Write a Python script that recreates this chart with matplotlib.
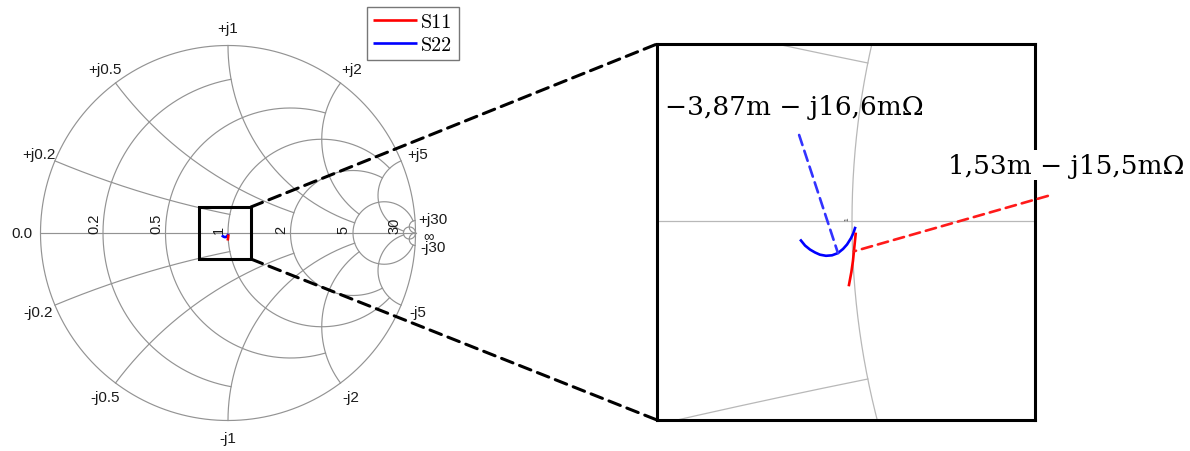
import numpy as np
import matplotlib
matplotlib.use("Agg")
import matplotlib.pyplot as plt
from matplotlib.patches import Rectangle, ConnectionPatch

# ---------------- data (reflection coefficients) -------------
s11_re = [0.0023, 0.0018, 0.0012, 0.0006, -0.0004, -0.0019]
s11_im = [-0.0081, -0.0130, -0.0190, -0.0250, -0.0320, -0.0401]
s22_re = [-0.0320, -0.0294, -0.0263, -0.0232, -0.0201, -0.0163, -0.0125,
          -0.0088, -0.0056, -0.0031, -0.0006, 0.0009, 0.0019]
s22_im = [-0.0122, -0.0154, -0.0179, -0.0197, -0.0211, -0.0218, -0.0215,
          -0.0201, -0.0175, -0.0147, -0.0107, -0.0075, -0.0044]

grid_values = [0.2, 0.5, 1, 2, 5, 30]
grid_ends = [1, 2, 5, 5, 30, np.inf]
r_labels = ["0.2", "0.5", "1", "2", "5", "30"]
x_labels_pos = ["+j0.2", "+j0.5", "+j1", "+j2", "+j5", "+j30"]
x_labels_neg = ["-j0.2", "-j0.5", "-j1", "-j2", "-j5", "-j30"]
zero_label = "0.0"
inf_label = "\u221e"

legend_labels = ["S11", "S22"]
s22_note = "\u22123,87m \u2212 j16,6m\u03a9"
s11_note = "1,53m \u2212 j15,5m\u03a9"

# marked region of the chart (Gamma units): x0, x1, y0, y1
zoom_window = (-0.155, 0.123, -0.139, 0.139)

# ---------------- helpers ----------------
def gamma(z):
    return (z - 1) / (z + 1)


def r_circle(r, xend, n=4000):
    if np.isinf(xend):
        th = np.linspace(0, 2 * np.pi, n)
        c, rad = r / (1 + r), 1 / (1 + r)
        return c + rad * np.cos(th), rad * np.sin(th)
    t = np.linspace(-xend, xend, n)
    g = gamma(r + 1j * t)
    return g.real, g.imag


def x_arc(x, rend, n=4000):
    if np.isinf(rend):
        s = np.tan(np.linspace(0, np.pi / 2 * 0.99995, n))
    else:
        s = np.linspace(0, rend, n)
    g = gamma(s + 1j * x)
    return g.real, g.imag


def draw_grid(ax, color, lw):
    th = np.linspace(0, 2 * np.pi, 1000)
    ax.plot(np.cos(th), np.sin(th), color=color, lw=lw, zorder=1)
    ax.plot([-1, 1], [0, 0], color=color, lw=lw, zorder=1)
    for v, e in zip(grid_values, grid_ends):
        xr, yr = r_circle(v, e)
        ax.plot(xr, yr, color=color, lw=lw, zorder=1)
        for sgn in (1, -1):
            xa, ya = x_arc(sgn * v, e)
            ax.plot(xa, ya, color=color, lw=lw, zorder=1)


W, H = 1190, 452
fig = plt.figure(figsize=(W / 100, H / 100), dpi=100)

# ---------------- main Smith chart ----------------
R = 187.5
cx, cy = 228, 234
ax = fig.add_axes([0, 0, 456 / W, 1])
ax.set_xlim(-cx / R, (456 - cx) / R)
ax.set_ylim(-(H - cy) / R, cy / R)
ax.axis("off")

draw_grid(ax, "#939393", 0.85)

lab_font = dict(family="Liberation Sans", color="#1a1a1a")
for v, lab in zip(grid_values, r_labels):
    ax.annotate(lab, ((v - 1) / (v + 1), 0), xytext=(-1.5, 0.3),
                textcoords="offset points", rotation=90, ha="right",
                va="bottom", fontsize=10.5, **lab_font)

for v, lp, ln in zip(grid_values, x_labels_pos, x_labels_neg):
    ang = np.angle(gamma(1j * v))
    for sgn, lab in ((1, lp), (-1, ln)):
        ax.text(1.095 * np.cos(ang), sgn * 1.095 * np.sin(ang), lab,
                ha="center", va="center", fontsize=11, **lab_font)
ax.text(-1.1, 0, zero_label, ha="center", va="center", fontsize=11, **lab_font)
ax.text(1.068, -0.01, inf_label, ha="center", va="center", fontsize=10.5,
        **lab_font)

l22, = ax.plot(s22_re, s22_im, color="#0000ff", lw=1.9, zorder=3,
               solid_capstyle="butt")
l11, = ax.plot(s11_re, s11_im, color="#ff0000", lw=1.9, zorder=3,
               solid_capstyle="butt")

x0, x1, y0, y1 = zoom_window
ax.add_patch(Rectangle((x0, y0), x1 - x0, y1 - y0, fill=False,
                       ec="black", lw=2.2, zorder=4))

leg = fig.legend([l11, l22], legend_labels, loc="upper left",
                 bbox_to_anchor=(367 / W, 1 - 8 / H), frameon=True,
                 fancybox=False, borderaxespad=0,
                 prop={"family": "cmr10", "size": 14.5},
                 handlelength=2.2, handletextpad=0.2, borderpad=0.3,
                 labelspacing=0.22)
leg.get_frame().set_edgecolor("#555555")
leg.get_frame().set_linewidth(1.0)

# ---------------- zoomed inset ----------------
S = 1596
icx, icy = 852, 222
axi = fig.add_axes([657 / W, (H - 421) / H, 378 / W, 376 / H])
axi.set_xlim((657 - icx) / S, (1035 - icx) / S)
axi.set_ylim((icy - 421) / S, (icy - 45) / S)
axi.set_xticks([])
axi.set_yticks([])
for sp in axi.spines.values():
    sp.set_linewidth(2.2)
    sp.set_color("black")

draw_grid(axi, "#b8b8b8", 0.9)
axi.annotate(r_labels[2], (0, 0), xytext=(-2, 0.5), textcoords="offset points",
             rotation=90, ha="right", va="bottom", fontsize=4.5,
             color="#333333", family="Liberation Sans")

axi.plot(s22_re, s22_im, color="#0000ff", lw=1.9, zorder=3)
axi.plot(s11_re, s11_im, color="#ff0000", lw=1.9, zorder=3)

dash = (0, (4, 2.3))
axi.annotate("", xy=(s22_re[7], s22_im[7]), xytext=(0.376, 0.758),
             textcoords="axes fraction",
             arrowprops=dict(arrowstyle="-", color="#3333ff", lw=1.9,
                             linestyle=dash, shrinkA=0, shrinkB=0))
axi.annotate("", xy=(s11_re[2], s11_im[2]),
             xytext=(1.034, 0.596), textcoords="axes fraction",
             arrowprops=dict(arrowstyle="-", color="#ff1a1a", lw=1.9,
                             linestyle=dash, shrinkA=0, shrinkB=0),
             annotation_clip=False)

note_font = dict(family="DejaVu Serif", fontsize=19, color="black")
axi.text(0.021, 0.835, s22_note, transform=axi.transAxes, ha="left",
         va="center", zorder=6, **note_font)
axi.text(0.77, 0.678, s11_note, transform=axi.transAxes, ha="left",
         va="center", zorder=6, clip_on=False,
         bbox=dict(facecolor="white", edgecolor="none", pad=1.5), **note_font)

# ---------------- connectors ----------------
for yy, ya in ((y1, 1), (y0, 0)):
    con = ConnectionPatch(xyA=(x1, yy), coordsA=ax.transData,
                          xyB=(0, ya), coordsB=axi.transAxes,
                          color="black", lw=2.2, linestyle=dash, zorder=5)
    fig.add_artist(con)

fig.savefig("out.png", dpi=100)
